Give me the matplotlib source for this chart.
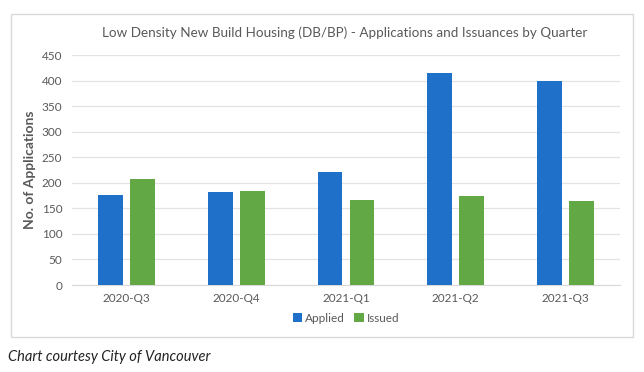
import matplotlib
matplotlib.use("Agg")
import matplotlib.pyplot as plt
from matplotlib.patches import Rectangle
import numpy as np

quarters = ["2020-Q3", "2020-Q4", "2021-Q1", "2021-Q2", "2021-Q3"]
applied = [177, 181, 221, 415, 400]
issued = [207, 184, 167, 175, 164]
yticks = [0, 50, 100, 150, 200, 250, 300, 350, 400, 450]

plt.rcParams['font.family'] = ['Lato', 'DejaVu Sans']

W, H = 644, 372
fig = plt.figure(figsize=(W / 100, H / 100), dpi=100)
fig.patch.set_facecolor("white")

# chart frame
fig.add_artist(Rectangle((11 / W, 1 - 337 / H), (633 - 11) / W, (337 - 14) / H,
                         transform=fig.transFigure, fill=False,
                         edgecolor="#D9D9D9", linewidth=1.0))

ax = fig.add_axes([72 / W, 1 - 285 / H, (620 - 72) / W, (285 - 55) / H])
x = np.arange(len(quarters))
bw = 0.228
off = 0.146
ax.bar(x - off, applied, bw, color="#1F70C8", label="Applied", zorder=3)
ax.bar(x + off, issued, bw, color="#62A845", label="Issued", zorder=3)

ax.set_xlim(-0.5, len(quarters) - 0.5)
ax.set_ylim(0, 450)
ax.set_yticks(yticks)
ax.set_xticks(x)
ax.set_xticklabels(quarters)
ax.tick_params(axis="both", length=0, labelsize=8.5, colors="#595959")
ax.tick_params(axis="y", pad=7)
ax.tick_params(axis="x", pad=6)
ax.grid(axis="y", color="#E3E3E3", linewidth=0.9, zorder=0)
for s in ["top", "right", "left"]:
    ax.spines[s].set_visible(False)
ax.spines["bottom"].set_color("#D9D9D9")

ax.set_ylabel("No. of Applications", fontsize=10, color="#595959",
              fontweight="bold", labelpad=4)

fig.text(345 / W, 1 - 33 / H,
         "Low Density New Build Housing (DB/BP) - Applications and Issuances by Quarter",
         ha="center", va="center", fontsize=9.7, color="#595959")

ax.legend(loc="center", bbox_to_anchor=(0.5, -0.145), ncol=2, frameon=False,
          fontsize=8.5, labelcolor="#595959", handlelength=0.8, handleheight=0.8,
          handletextpad=0.25, columnspacing=0.8)

fig.text(8 / W, 1 - 357 / H, "Chart courtesy City of Vancouver", ha="left",
         va="center", fontsize=10.5, style="italic", color="#222222")

fig.savefig("out.png", dpi=100)
